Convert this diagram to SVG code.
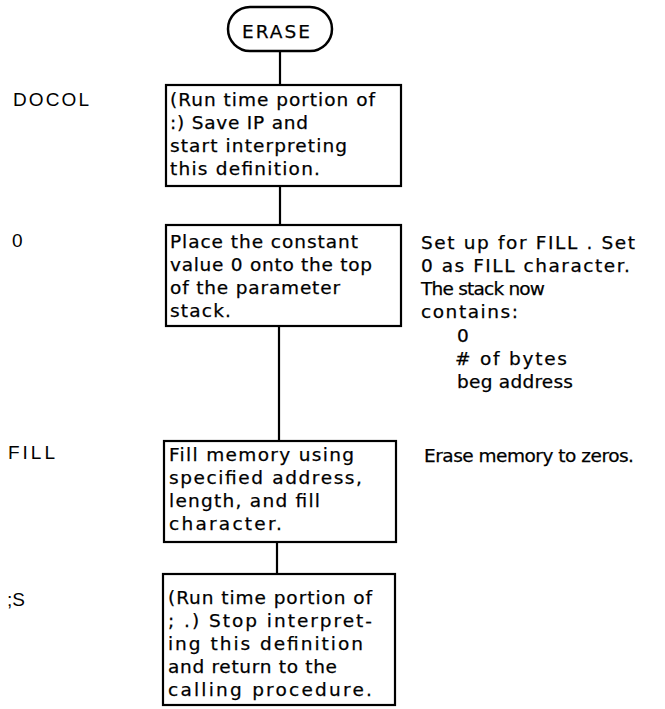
<svg xmlns="http://www.w3.org/2000/svg" width="665" height="709" viewBox="0 0 665 709">
<style>
.box{fill:#fff;stroke:#000;stroke-width:2.2}
.term{fill:#fff;stroke:#000;stroke-width:2.5}
.conn{stroke:#000;stroke-width:2.2;fill:none}
.t{font-family:"DejaVu Sans",sans-serif;font-size:18.5px;fill:#000;stroke:#000;stroke-width:0.25}
.lbl{font-family:"Liberation Sans",Arial,sans-serif;font-size:19px;fill:#000}
</style>
<rect width="665" height="709" fill="#fff"/>
<g id="connectors">
<line class="conn" x1="280" y1="51" x2="280" y2="85"/>
<line class="conn" x1="280" y1="186" x2="280" y2="225"/>
<line class="conn" x1="279" y1="326" x2="279" y2="441"/>
<line class="conn" x1="277" y1="542" x2="277" y2="574"/>
</g>
<g id="erase">
<rect class="term" x="228" y="7" width="104" height="44" rx="22" ry="22"/>
<text class="t" x="242" y="38" textLength="68">ERASE</text>
</g>
<g id="docol">
<text class="lbl" x="13" y="106" textLength="76">DOCOL</text>
<rect class="box" x="166" y="85" width="235" height="101"/>
<text class="t" x="170" y="106" textLength="205">(Run time portion of</text>
<text class="t" x="170" y="129" textLength="138">:) Save IP and</text>
<text class="t" x="170" y="152" textLength="177">start interpreting</text>
<text class="t" x="170" y="175" textLength="150">this definition.</text>
</g>
<g id="zero">
<text class="lbl" x="12" y="247">0</text>
<rect class="box" x="166" y="225" width="235" height="101"/>
<text class="t" x="170" y="248" textLength="188">Place the constant</text>
<text class="t" x="170" y="271" textLength="202">value 0 onto the top</text>
<text class="t" x="170" y="294" textLength="170">of the parameter</text>
<text class="t" x="170" y="317" textLength="61">stack.</text>
<text class="t" x="421" y="249" textLength="214">Set up for FILL . Set</text>
<text class="t" x="421" y="272" textLength="209">0 as FILL character.</text>
<text class="t" x="421" y="295" textLength="124">The stack now</text>
<text class="t" x="421" y="318" textLength="97">contains:</text>
<text class="t" x="457" y="342">0</text>
<text class="t" x="455" y="365" textLength="112"># of bytes</text>
<text class="t" x="457" y="388" textLength="116">beg address</text>
</g>
<g id="fill">
<text class="lbl" x="8" y="459" textLength="47">FILL</text>
<rect class="box" x="164" y="441" width="232" height="101"/>
<text class="t" x="169" y="461" textLength="185">Fill memory using</text>
<text class="t" x="169" y="484" textLength="193">specified address,</text>
<text class="t" x="169" y="507" textLength="151">length, and fill</text>
<text class="t" x="169" y="530" textLength="113">character.</text>
<text class="t" x="424" y="462" textLength="210">Erase memory to zeros.</text>
</g>
<g id="semis">
<text class="lbl" x="7" y="606">;S</text>
<rect class="box" x="163" y="574" width="232" height="131"/>
<text class="t" x="168" y="604" textLength="204">(Run time portion of</text>
<text class="t" x="168" y="627" textLength="204">; .) Stop interpret-</text>
<text class="t" x="168" y="650" textLength="195">ing this definition</text>
<text class="t" x="168" y="673" textLength="169">and return to the</text>
<text class="t" x="168" y="696" textLength="204">calling procedure.</text>
</g>
</svg>
